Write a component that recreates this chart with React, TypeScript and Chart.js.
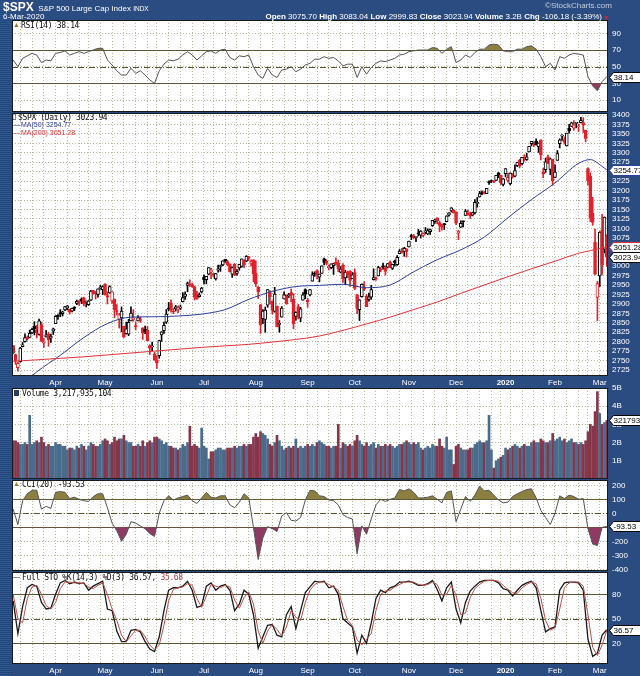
import React, { useEffect, useRef } from 'react';
import { Chart, registerables } from 'chart.js';

Chart.register(...registerables);

// ---------------- categories ----------------
const tradingMonths: [number, number, number[]][] = [
  [2019, 3, [6, 7, 8, 11, 12, 13, 14, 15, 18, 19, 20, 21, 22, 25, 26, 27, 28, 29]],
  [2019, 4, [1, 2, 3, 4, 5, 8, 9, 10, 11, 12, 15, 16, 17, 18, 22, 23, 24, 25, 26, 29, 30]],
  [2019, 5, [1, 2, 3, 6, 7, 8, 9, 10, 13, 14, 15, 16, 17, 20, 21, 22, 23, 24, 28, 29, 30, 31]],
  [2019, 6, [3, 4, 5, 6, 7, 10, 11, 12, 13, 14, 17, 18, 19, 20, 21, 24, 25, 26, 27, 28]],
  [2019, 7, [1, 2, 3, 5, 8, 9, 10, 11, 12, 15, 16, 17, 18, 19, 22, 23, 24, 25, 26, 29, 30, 31]],
  [2019, 8, [1, 2, 5, 6, 7, 8, 9, 12, 13, 14, 15, 16, 19, 20, 21, 22, 23, 26, 27, 28, 29, 30]],
  [2019, 9, [3, 4, 5, 6, 9, 10, 11, 12, 13, 16, 17, 18, 19, 20, 23, 24, 25, 26, 27, 30]],
  [2019, 10, [1, 2, 3, 4, 7, 8, 9, 10, 11, 14, 15, 16, 17, 18, 21, 22, 23, 24, 25, 28, 29, 30, 31]],
  [2019, 11, [1, 4, 5, 6, 7, 8, 11, 12, 13, 14, 15, 18, 19, 20, 21, 22, 25, 26, 27, 29]],
  [2019, 12, [2, 3, 4, 5, 6, 9, 10, 11, 12, 13, 16, 17, 18, 19, 20, 23, 24, 26, 27, 30, 31]],
  [2020, 1, [2, 3, 6, 7, 8, 9, 10, 13, 14, 15, 16, 17, 21, 22, 23, 24, 27, 28, 29, 30, 31]],
  [2020, 2, [3, 4, 5, 6, 7, 10, 11, 12, 13, 14, 18, 19, 20, 21, 24, 25, 26, 27, 28]],
  [2020, 3, [2, 3, 4, 5]],
];
const monthLabels = ['Mar', 'Apr', 'May', 'Jun', 'Jul', 'Aug', 'Sep', 'Oct', 'Nov', 'Dec', '2020', 'Feb', 'Mar'];

// ---------------- price (open, high, low, close) ----------------
const prevClose = 2790;
const ohlc: number[][] = [
  // Mar 2019
  [2790, 2790, 2768, 2771], [2766, 2767, 2740, 2749], [2731, 2746, 2722, 2743], [2747, 2785, 2746, 2783],
  [2787, 2798, 2786, 2792], [2800, 2821, 2799, 2811], [2811, 2815, 2804, 2808], [2811, 2831, 2810, 2822],
  [2823, 2836, 2821, 2833], [2841, 2853, 2818, 2833], [2831, 2843, 2810, 2824], [2819, 2860, 2817, 2855],
  [2845, 2852, 2800, 2801], [2796, 2809, 2785, 2798], [2813, 2830, 2812, 2818], [2820, 2825, 2788, 2805],
  [2809, 2820, 2798, 2815], [2828, 2836, 2819, 2834],
  // Apr
  [2848, 2869, 2848, 2867], [2868, 2872, 2859, 2867], [2877, 2885, 2866, 2873], [2874, 2881, 2868, 2879],
  [2884, 2893, 2882, 2893], [2889, 2896, 2884, 2895], [2886, 2886, 2873, 2878], [2881, 2889, 2879, 2888],
  [2891, 2893, 2882, 2888], [2901, 2910, 2898, 2907], [2908, 2909, 2896, 2905], [2912, 2916, 2901, 2907],
  [2916, 2918, 2895, 2900], [2904, 2908, 2892, 2905], [2898, 2909, 2896, 2908], [2910, 2936, 2909, 2934],
  [2935, 2936, 2926, 2927], [2928, 2933, 2913, 2926], [2925, 2940, 2918, 2940], [2941, 2949, 2939, 2943],
  [2938, 2948, 2925, 2946],
  // May
  [2952, 2954, 2923, 2924], [2922, 2932, 2900, 2918], [2929, 2948, 2928, 2946], [2908, 2932, 2901, 2932],
  [2913, 2913, 2863, 2884], [2880, 2898, 2871, 2880], [2859, 2875, 2836, 2871], [2863, 2892, 2826, 2881],
  [2841, 2841, 2811, 2812], [2821, 2852, 2820, 2834], [2820, 2859, 2816, 2851], [2855, 2892, 2855, 2876],
  [2859, 2885, 2854, 2860], [2841, 2853, 2831, 2840], [2855, 2869, 2855, 2864], [2856, 2865, 2851, 2856],
  [2837, 2837, 2806, 2823], [2833, 2841, 2821, 2826], [2831, 2841, 2802, 2802], [2790, 2792, 2766, 2783],
  [2786, 2799, 2776, 2789], [2767, 2772, 2751, 2752],
  // Jun
  [2752, 2763, 2729, 2744], [2763, 2804, 2756, 2803], [2818, 2827, 2801, 2826], [2829, 2852, 2822, 2843],
  [2852, 2885, 2848, 2873], [2886, 2904, 2882, 2886], [2903, 2911, 2878, 2885], [2882, 2888, 2874, 2879],
  [2887, 2896, 2881, 2892], [2886, 2895, 2877, 2887], [2889, 2897, 2885, 2890], [2906, 2930, 2905, 2917],
  [2920, 2932, 2912, 2926], [2949, 2958, 2932, 2954], [2952, 2964, 2946, 2950], [2951, 2955, 2944, 2945],
  [2945, 2947, 2910, 2917], [2927, 2933, 2912, 2913], [2919, 2929, 2918, 2924], [2932, 2944, 2929, 2942],
  // Jul
  [2971, 2977, 2953, 2964], [2964, 2973, 2953, 2973], [2979, 2996, 2977, 2996], [2984, 2994, 2967, 2990],
  [2980, 2981, 2971, 2976], [2966, 2981, 2963, 2980], [2989, 3003, 2984, 2993], [2999, 3003, 2986, 3000],
  [3003, 3014, 3001, 3014], [3018, 3018, 3010, 3014], [3012, 3016, 3001, 3004], [3006, 3006, 2985, 2985],
  [2979, 2998, 2970, 2996], [3005, 3007, 2975, 2976], [2981, 2991, 2976, 2986], [2995, 3005, 2989, 3005],
  [2999, 3019, 2997, 3019], [3017, 3017, 2996, 3004], [3013, 3028, 3012, 3026], [3025, 3026, 3015, 3021],
  [3007, 3017, 3000, 3013], [3017, 3017, 2959, 2980],
  // Aug
  [2981, 3014, 2946, 2953], [2944, 2946, 2914, 2932], [2898, 2898, 2822, 2845], [2861, 2885, 2848, 2881],
  [2859, 2892, 2825, 2884], [2897, 2938, 2891, 2938], [2930, 2935, 2900, 2919], [2907, 2908, 2873, 2883],
  [2880, 2944, 2878, 2926], [2894, 2894, 2839, 2840], [2846, 2856, 2825, 2848], [2865, 2893, 2865, 2889],
  [2913, 2932, 2913, 2924], [2920, 2924, 2899, 2900], [2922, 2928, 2917, 2924], [2930, 2939, 2905, 2923],
  [2912, 2927, 2834, 2847], [2867, 2879, 2857, 2878], [2893, 2899, 2860, 2869], [2862, 2891, 2853, 2887],
  [2910, 2930, 2910, 2924], [2938, 2940, 2914, 2926],
  // Sep
  [2910, 2915, 2891, 2906], [2924, 2938, 2921, 2938], [2960, 2985, 2960, 2977], [2980, 2985, 2973, 2979],
  [2988, 2990, 2966, 2978], [2971, 2979, 2958, 2979], [2981, 3001, 2981, 3001], [3019, 3021, 3003, 3010],
  [3013, 3017, 3003, 3007], [2996, 3003, 2990, 2998], [2996, 3006, 2993, 3006], [3001, 3008, 2978, 3007],
  [3010, 3022, 3003, 3006], [3008, 3016, 2985, 2992], [2984, 2999, 2982, 2992], [3002, 3007, 2957, 2967],
  [2969, 2989, 2952, 2984], [2985, 2987, 2969, 2977], [2986, 2988, 2946, 2962], [2967, 2983, 2967, 2977],
  // Oct
  [2983, 2993, 2938, 2941], [2925, 2925, 2874, 2888], [2885, 2911, 2856, 2911], [2919, 2953, 2918, 2952],
  [2945, 2959, 2935, 2939], [2921, 2925, 2893, 2893], [2912, 2929, 2907, 2919], [2918, 2949, 2912, 2938],
  [2964, 2993, 2963, 2970], [2966, 2972, 2962, 2966], [2974, 3000, 2974, 2996], [2990, 2997, 2985, 2990],
  [3001, 3008, 2992, 2998], [2996, 3001, 2976, 2986], [2997, 3007, 2995, 3007], [3011, 3014, 2996, 2996],
  [2994, 3005, 2991, 3005], [3014, 3016, 3000, 3010], [3004, 3028, 3002, 3023], [3033, 3044, 3033, 3040],
  [3036, 3047, 3034, 3036], [3039, 3050, 3026, 3047], [3046, 3046, 3024, 3038],
  // Nov
  [3051, 3066, 3051, 3066], [3079, 3084, 3070, 3078], [3080, 3084, 3072, 3075], [3076, 3079, 3065, 3077],
  [3088, 3097, 3080, 3085], [3082, 3094, 3074, 3093], [3081, 3088, 3077, 3087], [3090, 3102, 3085, 3092],
  [3085, 3099, 3083, 3094], [3091, 3098, 3084, 3097], [3107, 3121, 3105, 3121], [3118, 3124, 3113, 3122],
  [3128, 3128, 3112, 3120], [3115, 3119, 3091, 3108], [3109, 3111, 3095, 3104], [3112, 3113, 3097, 3110],
  [3118, 3133, 3117, 3133], [3135, 3142, 3132, 3141], [3146, 3155, 3143, 3154], [3148, 3150, 3140, 3141],
  // Dec
  [3144, 3144, 3110, 3114], [3087, 3095, 3070, 3093], [3103, 3120, 3102, 3113], [3120, 3120, 3104, 3117],
  [3134, 3150, 3134, 3146], [3141, 3148, 3135, 3136], [3135, 3143, 3126, 3133], [3135, 3143, 3133, 3142],
  [3141, 3176, 3138, 3169], [3166, 3182, 3156, 3169], [3183, 3198, 3183, 3192], [3195, 3199, 3189, 3192],
  [3195, 3198, 3191, 3191], [3192, 3206, 3192, 3206], [3223, 3226, 3216, 3221], [3226, 3228, 3221, 3224],
  [3225, 3226, 3221, 3223], [3227, 3240, 3227, 3240], [3247, 3248, 3234, 3240], [3240, 3241, 3216, 3221],
  [3216, 3232, 3212, 3231],
  // Jan 2020
  [3245, 3258, 3236, 3258], [3227, 3246, 3223, 3235], [3218, 3247, 3215, 3246], [3242, 3245, 3233, 3237],
  [3238, 3268, 3236, 3253], [3266, 3275, 3263, 3275], [3281, 3283, 3260, 3265], [3271, 3288, 3268, 3288],
  [3285, 3295, 3278, 3283], [3282, 3299, 3280, 3289], [3302, 3317, 3302, 3317], [3324, 3330, 3318, 3330],
  [3321, 3329, 3316, 3321], [3330, 3337, 3320, 3321], [3316, 3326, 3301, 3326], [3334, 3334, 3281, 3295],
  [3248, 3259, 3234, 3244], [3255, 3286, 3248, 3276], [3289, 3294, 3271, 3273], [3256, 3286, 3242, 3284],
  [3283, 3283, 3214, 3226],
  // Feb
  [3235, 3268, 3235, 3249], [3280, 3306, 3280, 3298], [3324, 3337, 3313, 3334], [3344, 3348, 3333, 3346],
  [3335, 3342, 3323, 3328], [3318, 3352, 3318, 3352], [3365, 3375, 3352, 3358], [3370, 3381, 3369, 3379],
  [3365, 3385, 3360, 3374], [3378, 3380, 3366, 3380], [3369, 3376, 3356, 3370], [3380, 3394, 3379, 3386],
  [3380, 3393, 3354, 3373], [3360, 3360, 3329, 3338], [3258, 3260, 3215, 3226], [3238, 3247, 3118, 3128],
  [3140, 3182, 3108, 3116], [3063, 3098, 2977, 2979], [2917, 2960, 2856, 2954],
  // Mar
  [2974, 3091, 2946, 3090], [3096, 3137, 2977, 3003], [3045, 3130, 3035, 3130], [3076, 3083, 3000, 3024],
];

// ---------------- volume (billions) ----------------
const volume: number[] = [
  2.1, 2.1, 2.0, 1.9, 1.9, 2.0, 1.9, 3.5, 1.9, 2.0, 2.1, 2.0, 2.3, 2.0, 1.8, 1.9, 1.8, 1.8,
  2.0, 1.9, 1.9, 1.8, 1.8, 1.6, 1.7, 1.7, 1.6, 1.8, 1.7, 1.9, 1.8, 1.6, 1.8, 2.0, 1.9, 1.8, 1.8, 1.9, 2.1,
  2.2, 2.1, 1.9, 2.0, 2.3, 2.1, 2.2, 2.2, 2.4, 2.1, 2.0, 2.0, 1.8, 1.8, 1.9, 1.8, 2.1, 1.8, 2.0, 2.1, 2.0, 2.3,
  2.3, 2.2, 2.1, 1.9, 2.0, 1.8, 1.8, 1.7, 1.7, 1.6, 1.7, 1.9, 1.8, 2.0, 2.9, 1.8, 1.9, 1.8, 1.7, 2.8,
  1.8, 1.7, 1.1, 1.5, 1.5, 1.6, 1.7, 1.7, 1.6, 1.6, 1.7, 1.7, 1.7, 1.8, 1.7, 1.8, 1.8, 1.9, 1.8, 1.9, 1.9, 2.3,
  2.5, 2.3, 2.6, 2.5, 2.4, 2.2, 1.9, 1.8, 2.0, 2.4, 2.1, 1.8, 1.6, 1.7, 1.8, 1.7, 1.8, 2.2, 1.7, 1.8, 1.7, 1.8,
  1.9, 1.8, 1.9, 1.8, 2.0, 2.1, 2.0, 1.9, 1.8, 1.8, 1.7, 1.8, 1.8, 3.0, 1.7, 2.0, 1.9, 1.8, 1.9, 1.8,
  2.1, 2.4, 2.1, 1.9, 1.8, 2.0, 1.8, 1.9, 2.0, 1.7, 1.9, 1.8, 1.8, 1.9, 1.8, 1.9, 1.8, 1.7, 1.8, 1.9, 1.9, 2.0, 2.1,
  2.0, 1.9, 2.0, 1.9, 2.0, 1.7, 1.6, 1.7, 1.8, 1.7, 1.9, 1.8, 1.8, 2.2, 1.8, 1.7, 2.3, 1.6, 1.6, 0.8,
  1.8, 1.9, 1.7, 1.6, 1.6, 1.6, 1.7, 1.7, 1.9, 2.0, 2.1, 2.0, 2.0, 2.1, 3.5, 1.6, 0.6, 1.0, 1.1, 1.2, 1.3,
  1.7, 1.6, 1.7, 1.8, 1.9, 1.8, 1.7, 1.8, 1.9, 1.8, 1.8, 2.0, 2.1, 2.0, 2.0, 2.2, 2.1, 2.0, 2.0, 2.1, 2.5,
  2.1, 2.2, 2.3, 2.1, 2.2, 2.0, 2.1, 2.2, 2.0, 2.0, 1.9, 2.0, 1.9, 2.1, 2.6, 3.0, 2.9, 3.7, 4.8,
  3.6, 3.0, 3.1, 3.217935104,
];

// ---------------- indicators (one reading every 2 trading days) ----------------
const indStep = 2;
const rsi: number[] = [
  58, 50, 60, 63, 66, 64, 55, 58, 57, 66,
  67, 69, 64, 66, 68, 66, 68, 70, 72, 72,
  58, 52, 45, 40, 40, 48, 42, 45, 40, 34,
  30, 45, 53, 58, 57, 59, 64, 68, 64, 58,
  63, 68, 69, 66, 70, 71, 61, 58, 63, 62,
  64, 50, 40, 36, 48, 40, 37, 46, 47, 50,
  44, 47, 52, 54, 59, 59, 62, 60, 61, 57,
  51, 53, 53, 37, 50, 41, 49, 54, 57, 56,
  58, 60, 64, 65, 68, 69, 70, 70, 70, 73,
  72, 66, 71, 74, 55, 58, 64, 61, 67, 71,
  71, 76, 77, 76, 69, 68, 68, 71, 71, 74,
  75, 71, 62, 50, 54, 46, 62, 60, 64, 66,
  65, 64, 38, 27, 21, 32, 38.14,
];
const cci: number[] = [
  30, -80, 90, 140, 165, 165, 30, 50, 35, 150,
  155, 150, 105, 115, 100, 90, 85, 120, 140, 140,
  40, -70, -125, -200, -150, -60, -70, -90, -110, -145,
  -165, 0, 90, 125, 95, 110, 120, 130, 90, 70,
  110, 150, 115, 110, 125, 125, 60, 40, 80, 140,
  110, -100, -330, -175, -95, -110, -130, -20, 5, -50,
  -55, -30, 95, 165, 160, 125, 120, 95, 90, 60,
  -10, -30, -40, -290, -90, -150, -40, 60, 100, 85,
  100, 110, 170, 160, 175, 150, 110, 110, 115, 125,
  100, 75, 150, 160, -60, 30, 120, 85, 130, 195,
  160, 165, 130, 95, 75, 80, 120, 140, 155, 170,
  175, 110, 20, -30, -80, 0, 125, 105, 130, 120,
  100, 105, -110, -220, -230, -100, -93.53,
];
const stoK: number[] = [
  72, 32, 65, 88, 92, 90, 70, 62, 63, 80,
  94, 97, 93, 95, 93, 94, 85, 90, 93, 96,
  62, 60, 35, 22, 22, 36, 37, 34, 22, 13,
  10, 28, 60, 85, 88, 88, 90, 96, 85, 64,
  66, 90, 94, 85, 90, 92, 85, 60, 68, 85,
  80, 55, 14, 28, 42, 43, 30, 28, 55, 65,
  38, 60, 82, 89, 96, 95, 96, 88, 90, 80,
  50, 45, 40, 8, 30, 20, 45, 75, 85, 82,
  88, 90, 95, 95, 96, 94, 91, 91, 93, 97,
  86, 72, 88, 95, 62, 45, 70, 84, 90, 95,
  97, 97, 97, 94, 87, 85, 78, 85, 91, 94,
  96, 88, 60, 34, 38, 40, 85, 94, 95, 95,
  94, 85, 25, 4, 8, 30, 36.57,
];
const stoD: number[] = [
  80, 50, 45, 75, 89, 91, 80, 66, 62, 70,
  87, 95, 95, 94, 94, 93, 89, 87, 91, 94,
  80, 62, 48, 30, 22, 29, 36, 36, 28, 18,
  12, 18, 42, 72, 86, 88, 89, 93, 91, 75,
  64, 78, 92, 90, 88, 91, 89, 73, 63, 76,
  83, 68, 35, 20, 35, 43, 37, 29, 40, 60,
  52, 48, 70, 85, 92, 95, 95, 92, 89, 85,
  65, 48, 42, 24, 18, 25, 32, 60, 80, 84,
  85, 89, 92, 95, 95, 95, 92, 91, 92, 95,
  92, 79, 80, 91, 79, 55, 57, 76, 87, 92,
  96, 97, 97, 96, 91, 86, 82, 81, 88, 92,
  95, 93, 75, 48, 36, 39, 62, 88, 94, 95,
  95, 90, 55, 15, 5, 18, 35.68,
];

// moving averages read at these bar indices
const maIdx = [0, 10, 20, 30, 40, 50, 60, 70, 80, 90, 100, 110, 120, 130, 140, 150, 160, 170, 180, 190, 200, 210, 220, 230, 240, 245, 250, 252];
const ma50 = [2667, 2720, 2764, 2811, 2848, 2865, 2866, 2868, 2873, 2885, 2912, 2933, 2946, 2949, 2952, 2943, 2950, 2985, 3017, 3043, 3077, 3128, 3176, 3220, 3272, 3282, 3264, 3254.77];
const ma200 = [2748, 2752, 2756, 2760, 2765, 2770, 2775, 2780, 2785, 2789, 2793, 2799, 2806, 2815, 2830, 2847, 2865, 2885, 2905, 2928, 2950, 2972, 2993, 3013, 3034, 3041, 3048, 3051.28];

// ---------------- axis tick labels ----------------
const rsiTicks = [10, 30, 50, 70, 90];
const priceTicks = [2725, 2750, 2775, 2800, 2825, 2850, 2875, 2900, 2925, 2950, 2975, 3000, 3025, 3050, 3075, 3100, 3125, 3150, 3175, 3200, 3225, 3250, 3275, 3300, 3325, 3350, 3375, 3400];
const volTicks = [1, 2, 3, 4, 5];
const cciTicks = [200, 100, 0, -100, -200, -300, -400];
const stoTicks = [20, 50, 80];

// ---------------- styling ----------------
const SANS = '"Liberation Sans", Arial, sans-serif';
const MONO = '"DejaVu Sans Mono", monospace';
const BG = '#2a4c80';
const GRID = 'rgba(175,175,145,0.85)';
const OLIVE = '#8b8040';
const MAROON = '#8e3a62';
const REF = '#5a5838';
const RED = '#e4202c';
const MA50_C = '#2e3f9e';
const MA200_C = '#e5333b';
const VOL_UP = '#4a6b8c';
const VOL_DN = '#86364a';
const AXIS_W = 32;
const CANVAS_W = 628;

// ---------------- derived helpers ----------------
const N = ohlc.length;
const dates: Date[] = [];
tradingMonths.forEach(([y, m, days]) => days.forEach((d) => dates.push(new Date(y, m - 1, d))));
const monthStart = new Map<number, string>();
{
  let k0 = 0;
  tradingMonths.forEach(([, , days], k) => {
    if (k > 0) monthStart.set(k0, monthLabels[k]);
    k0 += days.length;
  });
}
const weekStarts: number[] = [];
for (let i = 1; i < dates.length; i++) if (dates[i].getDay() < dates[i - 1].getDay()) weekStarts.push(i);
const weekSet = new Set(weekStarts);
const xTickVals = Array.from(new Set([...weekStarts, ...monthStart.keys()])).sort((a, b) => a - b);

const upDown = ohlc.map((d, i) => d[3] < (i ? ohlc[i - 1][3] : prevClose));
const candleColor = upDown.map((down) => (down ? RED : '#000'));
const bodyFill = ohlc.map((d, i) => (d[3] > d[0] ? '#fff' : candleColor[i]));
const volColor = upDown.map((down) => (down ? VOL_DN : VOL_UP));

const ind = (arr: number[]) => arr.map((v, k) => ({ x: k * indStep, y: v }));
const maPts = (arr: number[]) => arr.map((v, k) => ({ x: maIdx[k], y: v }));

type RefLine = { v: number; dash?: number[] };
type ValBox = { v: number; text: string; color: string };

function panelPlugin(lines: RefLine[], boxes: ValBox[]) {
  return {
    id: 'panel',
    beforeDraw(chart: any) {
      const { ctx, chartArea: a } = chart;
      ctx.save();
      ctx.fillStyle = '#fff';
      ctx.fillRect(a.left, a.top, a.right - a.left, a.bottom - a.top);
      ctx.restore();
    },
    beforeDatasetsDraw(chart: any) {
      const { ctx, chartArea: a } = chart;
      const ys = chart.scales.y;
      ctx.save();
      for (const l of lines) {
        const py = Math.round(ys.getPixelForValue(l.v)) + 0.5;
        ctx.strokeStyle = REF;
        ctx.lineWidth = 1;
        ctx.setLineDash(l.dash || []);
        ctx.beginPath();
        ctx.moveTo(a.left, py);
        ctx.lineTo(a.right, py);
        ctx.stroke();
      }
      ctx.restore();
    },
    afterDraw(chart: any) {
      const { ctx, chartArea: a } = chart;
      ctx.save();
      ctx.strokeStyle = '#1b1b1b';
      ctx.lineWidth = 1;
      ctx.strokeRect(a.left + 0.5, a.top + 0.5, a.right - a.left - 1, a.bottom - a.top - 1);
      for (const b of boxes) {
        const py = Math.round(chart.scales.y.getPixelForValue(b.v)) + 0.5;
        const L = a.right + 1.5;
        const R = chart.width + 2;
        const h = 5;
        ctx.beginPath();
        ctx.moveTo(L, py);
        ctx.lineTo(L + 4, py - h);
        ctx.lineTo(R, py - h);
        ctx.lineTo(R, py + h);
        ctx.lineTo(L + 4, py + h);
        ctx.closePath();
        ctx.fillStyle = '#fff';
        ctx.fill();
        ctx.strokeStyle = b.color;
        ctx.stroke();
        ctx.fillStyle = '#000';
        ctx.font = '8px ' + SANS;
        ctx.textBaseline = 'middle';
        ctx.textAlign = 'left';
        ctx.fillText(b.text, L + 4, py + 0.5);
      }
      ctx.restore();
    },
  };
}

function xScale(showLabels: boolean): any {
  return {
    type: 'linear',
    min: -0.5,
    max: N - 0.5,
    offset: false,
    grid: {
      offset: false,
      drawTicks: false,
      lineWidth: 1,
      color: (c: any) => (c.tick && weekSet.has(c.tick.value) ? GRID : 'rgba(0,0,0,0)'),
    },
    border: { display: false, dash: [1, 2] },
    ticks: {
      display: showLabels,
      autoSkip: false,
      maxRotation: 0,
      minRotation: 0,
      padding: 2,
      color: '#fff',
      font: (c: any) => ({ family: SANS, size: 8, weight: c.tick && c.tick.label === '2020' ? 'bold' : 'normal' }),
      callback: (v: any) => monthStart.get(v) ?? '',
    },
    afterBuildTicks: (s: any) => {
      s.ticks = xTickVals.map((v) => ({ value: v }));
    },
    afterFit: (s: any) => {
      s.height = showLabels ? 12 : 0;
      s.paddingLeft = 0;
      s.paddingRight = 0;
    },
  };
}

function yScale(min: number, max: number, ticks: number[], fmt: (v: number) => string): any {
  return {
    position: 'right',
    min,
    max,
    grid: { drawTicks: false, color: GRID, lineWidth: 1 },
    border: { display: false, dash: [1, 2] },
    ticks: { color: '#fff', padding: 4, autoSkip: false, font: { family: SANS, size: 8 }, callback: (v: any) => fmt(v) },
    afterBuildTicks: (s: any) => {
      s.ticks = ticks.map((v) => ({ value: v }));
    },
    afterFit: (s: any) => {
      s.width = AXIS_W;
      s.paddingTop = 0;
      s.paddingBottom = 0;
    },
  };
}

function baseOptions(padTop: number, padBottom: number, scales: any): any {
  return {
    responsive: false,
    maintainAspectRatio: false,
    animation: false,
    events: [],
    layout: { padding: { top: padTop, bottom: padBottom, left: 0, right: 0 } },
    plugins: { legend: { display: false }, tooltip: { enabled: false } },
    scales,
  };
}

const lineDs = (data: any[], color: string, width = 1, extra: any = {}) => ({
  type: 'line',
  data,
  borderColor: color,
  borderWidth: width,
  pointRadius: 0,
  tension: 0,
  fill: false,
  ...extra,
});

const DASHDOT = [6, 2, 1, 2];

export default function App() {
  const rsiRef = useRef<HTMLCanvasElement>(null);
  const priceRef = useRef<HTMLCanvasElement>(null);
  const volRef = useRef<HTMLCanvasElement>(null);
  const cciRef = useRef<HTMLCanvasElement>(null);
  const stoRef = useRef<HTMLCanvasElement>(null);

  useEffect(() => {
    Chart.defaults.font.family = SANS;
    const charts: Chart[] = [];
    const rsiPts = ind(rsi);
    const cciPts = ind(cci);

    charts.push(
      new Chart(rsiRef.current as HTMLCanvasElement, {
        type: 'line',
        data: {
          datasets: [
            lineDs(rsiPts, '#555', 1, { fill: { target: { value: 70 }, above: OLIVE, below: 'rgba(0,0,0,0)' } }),
            lineDs(rsiPts, 'rgba(0,0,0,0)', 0, { fill: { target: { value: 30 }, above: 'rgba(0,0,0,0)', below: MAROON } }),
          ] as any,
        },
        options: baseOptions(6, 6, { x: xScale(false), y: yScale(-4.4, 106, rsiTicks, (v) => String(v)) }),
        plugins: [panelPlugin([{ v: 70 }, { v: 50, dash: DASHDOT }, { v: 30 }], [{ v: rsi[rsi.length - 1], text: '38.14', color: '#000' }])],
      } as any)
    );

    charts.push(
      new Chart(priceRef.current as HTMLCanvasElement, {
        type: 'bar',
        data: {
          datasets: [
            lineDs(maPts(ma200), MA200_C, 1, { cubicInterpolationMode: 'monotone', order: 0 }),
            lineDs(maPts(ma50), MA50_C, 1, { cubicInterpolationMode: 'monotone', order: 0 }),
            {
              type: 'bar',
              data: ohlc.map((d, i) => ({ x: i, y: [d[2], d[1]] })),
              backgroundColor: candleColor,
              borderWidth: 0,
              barThickness: 1,
              grouped: false,
              order: 2,
            },
            {
              type: 'bar',
              data: ohlc.map((d, i) => ({ x: i, y: [d[0], d[3]] })),
              backgroundColor: bodyFill,
              borderColor: candleColor,
              borderWidth: 1,
              borderSkipped: false,
              barThickness: 3,
              minBarLength: 1,
              grouped: false,
              order: 1,
            },
          ] as any,
        },
        options: baseOptions(6, 0, { x: xScale(true), y: yScale(2709.2, 3405.3, priceTicks, (v) => String(v)) }),
        plugins: [
          panelPlugin([], [
            { v: ma50[ma50.length - 1], text: '3254.77', color: MA50_C },
            { v: ma200[ma200.length - 1], text: '3051.28', color: MA200_C },
            { v: ohlc[N - 1][3], text: '3023.94', color: '#000' },
          ]),
        ],
      } as any)
    );

    charts.push(
      new Chart(volRef.current as HTMLCanvasElement, {
        type: 'bar',
        data: {
          datasets: [
            {
              data: volume.map((v, i) => ({ x: i, y: v })),
              backgroundColor: volColor,
              barThickness: 2,
              grouped: false,
            },
          ] as any,
        },
        options: baseOptions(6, 6, { x: xScale(false), y: yScale(0, 5, volTicks, (v) => v + 'B') }),
        plugins: [panelPlugin([], [{ v: volume[N - 1], text: '3217935104', color: '#000' }])],
      } as any)
    );

    charts.push(
      new Chart(cciRef.current as HTMLCanvasElement, {
        type: 'line',
        data: {
          datasets: [
            lineDs(cciPts, '#555', 1, { fill: { target: { value: 100 }, above: OLIVE, below: 'rgba(0,0,0,0)' } }),
            lineDs(cciPts, 'rgba(0,0,0,0)', 0, { fill: { target: { value: -100 }, above: 'rgba(0,0,0,0)', below: MAROON } }),
          ] as any,
        },
        options: baseOptions(6, 6, { x: xScale(false), y: yScale(-412, 238, cciTicks, (v) => String(v)) }),
        plugins: [panelPlugin([{ v: 100 }, { v: 0, dash: DASHDOT }, { v: -100 }], [{ v: cci[cci.length - 1], text: '-93.53', color: '#000' }])],
      } as any)
    );

    charts.push(
      new Chart(stoRef.current as HTMLCanvasElement, {
        type: 'line',
        data: {
          datasets: [lineDs(ind(stoD), '#c0504a', 1), lineDs(ind(stoK), '#1a1a1a', 1.3)] as any,
        },
        options: baseOptions(6, 0, { x: xScale(true), y: yScale(-5.3, 107.3, stoTicks, (v) => String(v)) }),
        plugins: [panelPlugin([{ v: 80 }, { v: 50, dash: DASHDOT }, { v: 20 }], [{ v: stoK[stoK.length - 1], text: '36.57', color: '#000' }])],
      } as any)
    );

    return () => charts.forEach((c) => c.destroy());
  }, []);

  const canvasStyle = (top: number, h: number): React.CSSProperties => ({
    position: 'absolute',
    left: 12,
    top,
    width: CANVAS_W,
    height: h,
  });
  const mono: React.CSSProperties = {
    position: 'absolute',
    fontFamily: MONO,
    fontSize: 8,
    letterSpacing: '-0.35px',
    lineHeight: '9px',
    color: '#111',
    whiteSpace: 'pre',
  };
  const small: React.CSSProperties = {
    position: 'absolute',
    fontFamily: SANS,
    fontSize: 7,
    lineHeight: '8px',
    whiteSpace: 'pre',
  };
  const hdr: React.CSSProperties = { position: 'absolute', fontFamily: SANS, color: '#fff', whiteSpace: 'pre' };

  return (
    <div
      style={{
        position: 'absolute',
        left: 0,
        top: 0,
        width: 640,
        height: 676,
        background: BG,
        overflow: 'hidden',
      }}
    >
      <div
        style={{
          position: 'absolute',
          left: 0,
          top: 0,
          width: 11,
          height: 676,
          background: 'repeating-linear-gradient(0deg, #2f5890 0px, #2f5890 1px, #22457a 1px, #22457a 2px)',
        }}
      />
      <canvas ref={rsiRef} width={CANVAS_W} height={104} style={canvasStyle(14, 104)} />
      <canvas ref={priceRef} width={CANVAS_W} height={281} style={canvasStyle(107, 281)} />
      <canvas ref={volRef} width={CANVAS_W} height={103} style={canvasStyle(382, 103)} />
      <canvas ref={cciRef} width={CANVAS_W} height={103} style={canvasStyle(474, 103)} />
      <canvas ref={stoRef} width={CANVAS_W} height={110} style={canvasStyle(566, 110)} />

      {/* header */}
      <div style={{ ...hdr, left: 3, top: -1, lineHeight: '14px' }}>
        <span style={{ fontSize: 12, fontWeight: 'bold' }}>$SPX</span>
        <span style={{ fontSize: 8 }}>{'  S&P 500 Large Cap Index '}</span>
        <span style={{ fontSize: 6.5 }}>INDX</span>
      </div>
      <span style={{ ...hdr, left: 545, top: 1, fontSize: 8, lineHeight: '10px', color: '#c3cde0' }}>©StockCharts.com</span>
      <span style={{ ...hdr, left: 3, top: 12, fontSize: 8, lineHeight: '10px' }}>6-Mar-2020</span>
      <span style={{ ...hdr, right: 38, top: 12, fontSize: 8, lineHeight: '10px' }}>
        <b>Open</b> 3075.70 <b>High</b> 3083.04 <b>Low</b> 2999.83 <b>Close</b> 3023.94 <b>Volume</b> 3.2B <b>Chg</b> -106.18 (-3.39%)
      </span>
      <span style={{ ...hdr, left: 603, top: 13, fontSize: 6.5, lineHeight: '9px', color: '#e0202a' }}>▼</span>

      {/* RSI label */}
      <span style={{ ...small, left: 13, top: 21, fontSize: 7, color: OLIVE }}>▲</span>
      <span style={{ ...mono, left: 21, top: 21 }}>RSI(14) 38.14</span>

      {/* price labels */}
      <span style={{ ...small, left: 12, top: 113, fontSize: 8, color: '#000' }}>▯</span>
      <span style={{ ...mono, left: 18, top: 113 }}>$SPX (Daily) 3023.94</span>
      <span style={{ ...small, left: 13, top: 121, color: MA50_C }}>—</span>
      <span style={{ ...small, left: 21, top: 121, color: MA50_C }}>MA(50) 3254.77</span>
      <span style={{ ...small, left: 13, top: 129, color: MA200_C }}>—</span>
      <span style={{ ...small, left: 21, top: 129, color: MA200_C }}>MA(200) 3051.28</span>

      {/* volume label */}
      <span style={{ position: 'absolute', left: 14, top: 390, width: 5, height: 6, background: '#2c3e58' }} />
      <span style={{ ...mono, left: 22, top: 389 }}>Volume 3,217,935,104</span>

      {/* CCI label */}
      <span style={{ ...small, left: 13, top: 480, fontSize: 7, color: OLIVE }}>▲</span>
      <span style={{ ...mono, left: 22, top: 480 }}>CCI(20) -93.53</span>

      {/* STO label */}
      <span style={{ ...small, left: 13, top: 573, color: '#1a1a1a' }}>—</span>
      <span style={{ ...mono, left: 22, top: 573 }}>
        Full STO %K(14,3) %D(3) 36.57, <span style={{ color: '#a04040' }}>35.68</span>
      </span>
    </div>
  );
}
